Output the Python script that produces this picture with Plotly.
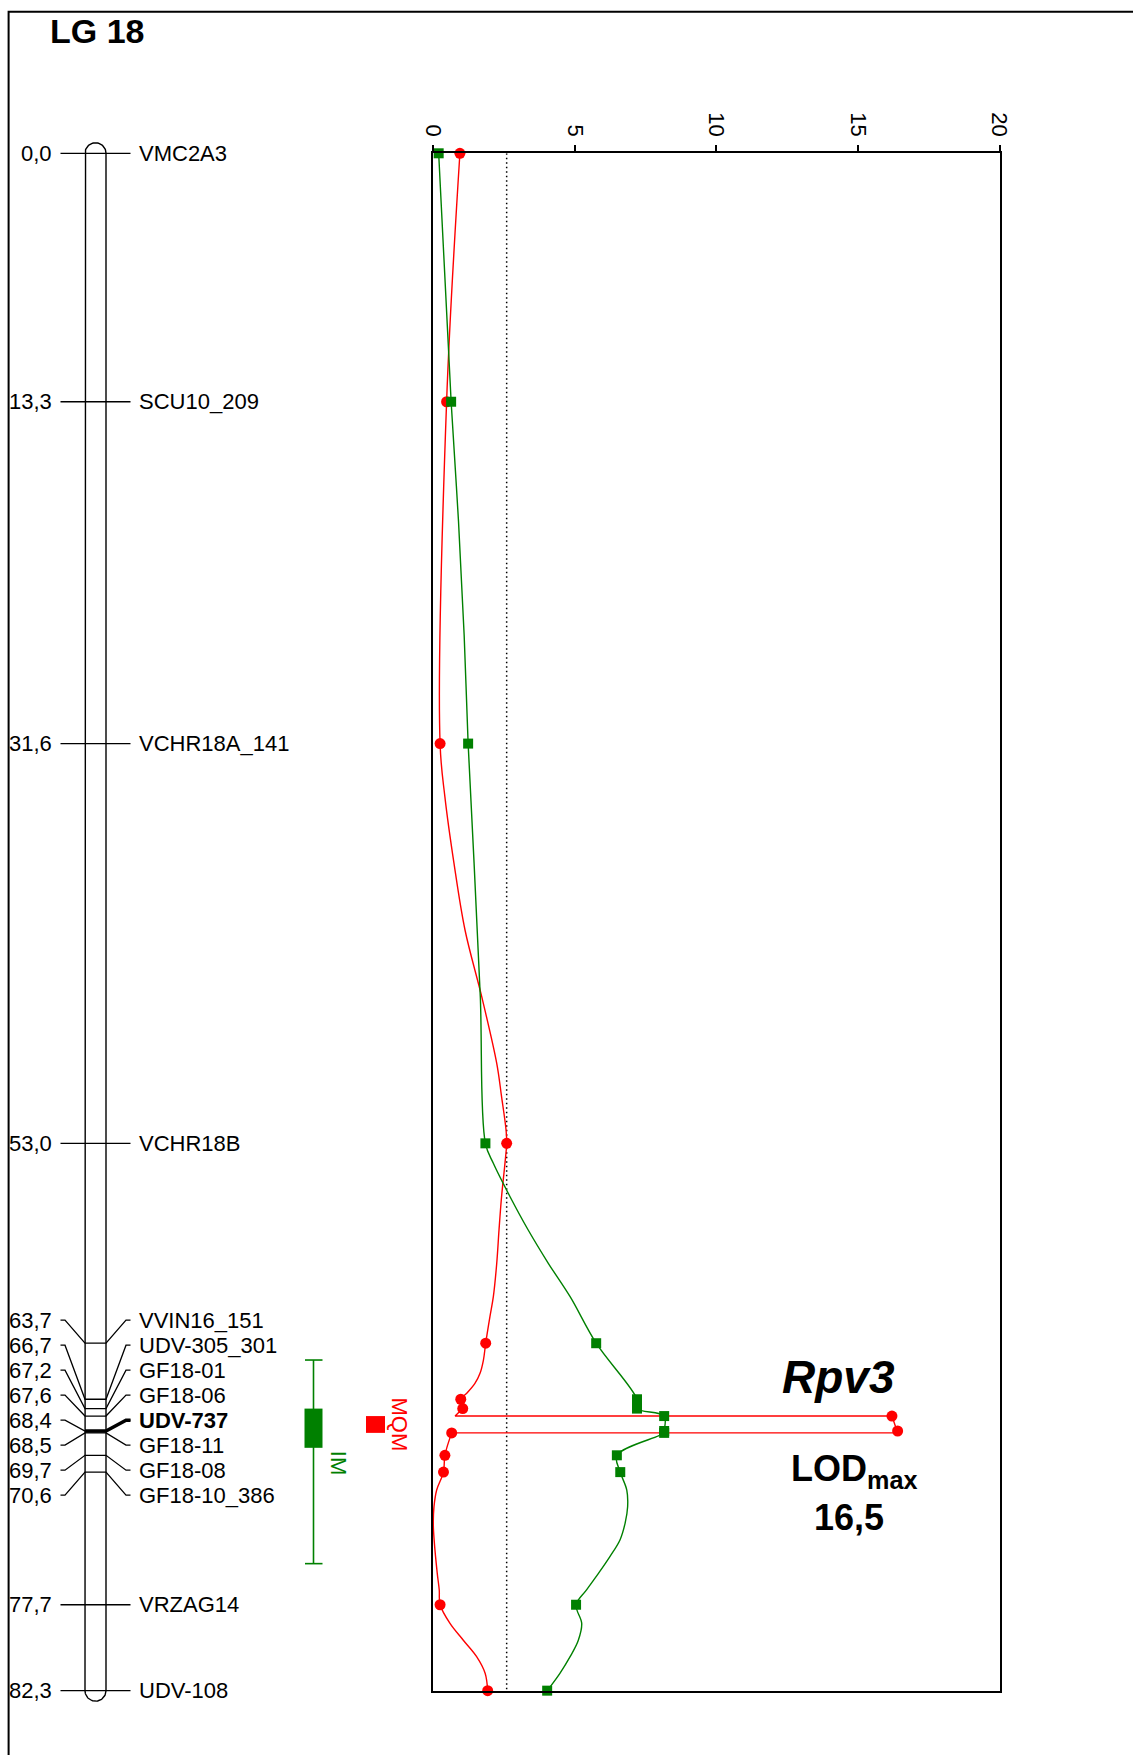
import plotly.graph_objects as go
import numpy as np

W, H = 1133, 1755

# ---------------- data ----------------
# markers of linkage group 18 (position in cM)
positions_cM = [0.0, 13.3, 31.6, 53.0, 63.7, 66.7, 67.2, 67.6, 68.4, 68.5, 69.7, 70.6, 77.7, 82.3]
marker_names = ["VMC2A3", "SCU10_209", "VCHR18A_141", "VCHR18B", "VVIN16_151", "UDV-305_301",
                "GF18-01", "GF18-06", "UDV-737", "GF18-11", "GF18-08", "GF18-10_386",
                "VRZAG14", "UDV-108"]
# LOD at the markers
lod_im = [0.2, 0.64, 1.24, 1.85, 5.76, 7.2, 7.2, 8.16, 8.16, 8.16, 6.49, 6.61, 5.05, 4.03]
lod_mqm = [0.95, 0.48, 0.25, 2.6, 1.86, 0.98, 1.05, 16.2, 16.4, 0.66, 0.42, 0.37, 0.25, 1.93]

# LOD profiles
im_profile_cM = [0.0, 13.3, 19.7, 25.8, 31.6, 38.0, 45.15, 53.0, 54.07, 55.86, 57.64, 59.42,
                 61.21, 63.7, 66.7, 67.2, 67.6, 68.4, 68.5, 69.7, 70.6, 71.56, 72.45,
                 73.34, 74.23, 75.11, 76.02, 76.9, 77.7, 78.7, 79.6, 80.48, 81.37, 82.3]
im_profile_lod = [0.2, 0.64, 0.9, 1.1, 1.24, 1.45, 1.67, 1.85, 2.13, 2.72, 3.36, 4.07,
                  4.84, 5.76, 7.2, 7.2, 8.16, 8.16, 8.16, 6.49, 6.61, 6.84, 6.87,
                  6.78, 6.6, 6.25, 5.84, 5.42, 5.05, 5.25, 5.13, 4.84, 4.48, 4.03]
mqm_left_cM = [0.0, 13.3, 31.6, 34.45, 38.0, 41.58, 45.15, 48.72, 50.5, 52.3, 53.0, 54.07,
               55.86, 57.64, 59.42, 61.21, 62.28, 63.7, 64.6, 65.31, 65.85, 66.38, 66.7, 67.2]
mqm_left_lod = [0.95, 0.48, 0.25, 0.42, 0.74, 1.13, 1.72, 2.25, 2.42, 2.58, 2.6, 2.54,
                2.42, 2.33, 2.25, 2.13, 2.01, 1.86, 1.78, 1.66, 1.48, 1.19, 0.98, 1.05]
mqm_peak_cM = [67.2, 67.6, 67.6, 68.4, 68.5, 68.5]
mqm_peak_lod = [1.05, 0.78, 16.2, 16.4, 16.4, 0.66]
mqm_right_cM = [68.5, 69.7, 70.6, 71.56, 72.45, 73.34, 74.23, 76.02, 76.9, 77.7, 78.7, 79.6,
                80.48, 81.37, 82.3]
mqm_right_lod = [0.66, 0.42, 0.37, 0.13, 0.035, 0.01, 0.04, 0.15, 0.22, 0.25, 0.6, 1.07,
                 1.54, 1.84, 1.93]

lod_threshold = 2.6
im_interval_outer = [64.6, 75.5]
im_interval_inner = [67.2, 69.3]
mqm_interval = [67.6, 68.5]
lod_ticks = [0, 5, 10, 15, 20]
highlight_marker = "UDV-737"
lod_max = 16.5
group_title = "LG 18"
qtl_name = "Rpv3"

# ---------------- geometry ----------------
Y0 = 153.3          # px of 0 cM
S = 18.68           # px per cM
X_LOD0, X_LOD20 = 433.0, 999.6
RED, GREEN = "#FF0000", "#008000"
FONT = "Liberation Sans, Arial, sans-serif"

cm_end = positions_cM[-1]

# label spreading
gap = 25.0 / S
groups = [[i] for i in range(len(positions_cM))]


def layout_groups(groups):
    res = []
    for g in groups:
        c = (positions_cM[g[0]] + positions_cM[g[-1]]) / 2
        n = len(g)
        res.append([c + (k - (n - 1) / 2) * gap for k in range(n)])
    return res


changed = True
while changed:
    changed = False
    lab = layout_groups(groups)
    for gi in range(len(groups) - 1):
        if lab[gi + 1][0] - lab[gi][-1] < gap - 1e-9:
            groups[gi] = groups[gi] + groups[gi + 1]
            del groups[gi + 1]
            changed = True
            break
label_y = [y for ys in layout_groups(groups) for y in ys]

fig = go.Figure()

# ---------- chromosome (x2 / y2, x2 in pixel units) ----------
cx, r = 95.5, 10.5
xl, xr = cx - r, cx + r
th = np.linspace(0, np.pi, 40)
top_arc_x = list(cx - r * np.cos(th))
top_arc_y = list(positions_cM[0] - r * np.sin(th) / S)
bot_arc_x = list(cx + r * np.cos(th))
bot_arc_y = list(cm_end + r * np.sin(th) / S)
chrom_x = [xl] + top_arc_x + [xr, xr] + bot_arc_x + [xl]
chrom_y = [cm_end] + top_arc_y + [positions_cM[0], cm_end] + bot_arc_y + [cm_end]
fig.add_trace(go.Scatter(x=chrom_x, y=chrom_y, mode="lines", xaxis="x2", yaxis="y2",
                         line=dict(color="black", width=1.4), hoverinfo="skip", showlegend=False))

annotations = []
for i, (p, name, ly) in enumerate(zip(positions_cM, marker_names, label_y)):
    xs = [60.5, 65, xl, xr, 126, 130.5]
    ys = [ly, ly, p, p, ly, ly]
    fig.add_trace(go.Scatter(x=xs, y=ys, mode="lines", xaxis="x2", yaxis="y2",
                             line=dict(color="black", width=1.3), hoverinfo="skip", showlegend=False))
    bold = name == highlight_marker
    if bold:
        fig.add_trace(go.Scatter(x=[xl, xr, 126, 130.5], y=[p, p, ly, ly], mode="lines",
                                 xaxis="x2", yaxis="y2", line=dict(color="black", width=3.5),
                                 hoverinfo="skip", showlegend=False))
    annotations.append(dict(x=54, y=ly, xref="x2", yref="y2", xanchor="right", yanchor="middle",
                            text=f"{p:.1f}".replace(".", ","), showarrow=False,
                            font=dict(size=22, color="black", family=FONT)))
    annotations.append(dict(x=136.5, y=ly, xref="x2", yref="y2", xanchor="left", yanchor="middle",
                            text=f"<b>{name}</b>" if bold else name, showarrow=False,
                            font=dict(size=22, color="black", family=FONT)))

# ---------- IM / MQM intervals ----------
shapes = []
imx = 313.5
shapes.append(dict(type="line", xref="x2", yref="y2", x0=imx, x1=imx,
                   y0=im_interval_outer[0], y1=im_interval_outer[1], line=dict(color=GREEN, width=1.6)))
for yv in im_interval_outer:
    shapes.append(dict(type="line", xref="x2", yref="y2", x0=305, x1=322.5, y0=yv, y1=yv,
                       line=dict(color=GREEN, width=1.6)))
shapes.append(dict(type="rect", xref="x2", yref="y2", x0=304.5, x1=322.5,
                   y0=im_interval_inner[0], y1=im_interval_inner[1],
                   fillcolor=GREEN, line=dict(color=GREEN, width=0)))
shapes.append(dict(type="rect", xref="x2", yref="y2", x0=366, x1=385,
                   y0=mqm_interval[0], y1=mqm_interval[1],
                   fillcolor=RED, line=dict(color=RED, width=0)))
annotations.append(dict(x=338, y=70.1, xref="x2", yref="y2", text="IM", textangle=90,
                        showarrow=False, font=dict(size=22, color=GREEN, family=FONT)))
annotations.append(dict(x=400, y=sum(mqm_interval) / 2, xref="x2", yref="y2", text="MQM", textangle=90,
                        showarrow=False, font=dict(size=22, color=RED, family=FONT)))

# ---------- LOD curves ----------
fig.add_trace(go.Scatter(x=[lod_threshold, lod_threshold], y=[positions_cM[0], cm_end], mode="lines",
                         line=dict(color="black", width=1.5, dash="1.5px,3px"),
                         hoverinfo="skip", showlegend=False))

red_line = dict(color=RED, width=1.4)
fig.add_trace(go.Scatter(x=mqm_left_lod, y=mqm_left_cM, mode="lines",
                         line=dict(**red_line, shape="spline"), cliponaxis=False,
                         hoverinfo="skip", showlegend=False))
fig.add_trace(go.Scatter(x=mqm_peak_lod, y=mqm_peak_cM, mode="lines",
                         line=dict(**red_line, shape="linear"), cliponaxis=False,
                         hoverinfo="skip", showlegend=False))
fig.add_trace(go.Scatter(x=mqm_right_lod, y=mqm_right_cM, mode="lines",
                         line=dict(**red_line, shape="spline"), cliponaxis=False,
                         hoverinfo="skip", showlegend=False))
fig.add_trace(go.Scatter(x=lod_mqm, y=positions_cM, mode="markers", name="MQM",
                         marker=dict(symbol="circle", size=11, color=RED),
                         cliponaxis=False, showlegend=False))
fig.add_trace(go.Scatter(x=im_profile_lod, y=im_profile_cM, mode="lines",
                         line=dict(color=GREEN, width=1.4, shape="spline"),
                         cliponaxis=False, hoverinfo="skip", showlegend=False))
fig.add_trace(go.Scatter(x=lod_im, y=positions_cM, mode="markers", name="IM",
                         marker=dict(symbol="square", size=10, color=GREEN),
                         cliponaxis=False, showlegend=False))

# ---------- text ----------
annotations.append(dict(x=48 / W, y=1 - 31 / H, xref="paper", yref="paper", xanchor="left",
                        yanchor="middle", text=f"<b>{group_title}</b>", showarrow=False,
                        font=dict(size=34, color="black", family=FONT)))
annotations.append(dict(x=838 / W, y=1 - 1377 / H, xref="paper", yref="paper", xanchor="center",
                        yanchor="middle", text=f"<b><i>{qtl_name}</i></b>", showarrow=False,
                        font=dict(size=46, color="black", family=FONT)))
annotations.append(dict(x=789 / W, y=1 - 1471 / H, xref="paper", yref="paper", xanchor="left",
                        yanchor="middle", text="<b>LOD<sub>max</sub></b>", showarrow=False,
                        font=dict(size=36, color="black", family=FONT)))
annotations.append(dict(x=848.5 / W, y=1 - 1517 / H, xref="paper", yref="paper", xanchor="center",
                        yanchor="middle", text=f"<b>{lod_max:.1f}</b>".replace(".", ","),
                        showarrow=False, font=dict(size=36, color="black", family=FONT)))

# outer frame
shapes.append(dict(type="path", xref="paper", yref="paper",
                   path=f"M {8.6 / W},0 L {8.6 / W},{1 - 11.8 / H} L 1,{1 - 11.8 / H}",
                   line=dict(color="black", width=2)))

fig.update_layout(
    template="none",
    width=W, height=H, autosize=False, margin=dict(l=0, r=0, t=0, b=0, pad=0, autoexpand=False),
    paper_bgcolor="white", plot_bgcolor="rgba(0,0,0,0)",
    font=dict(family=FONT, size=22, color="black"),
    showlegend=False,
    xaxis=dict(domain=[X_LOD0 / W, X_LOD20 / W], range=[0, 20], side="top", anchor="y",
               tickvals=lod_ticks, ticktext=[str(t) for t in lod_ticks], tickangle=90,
               ticks="outside", ticklen=7, tickwidth=1.5, tickcolor="black",
               showline=True, mirror=True, linecolor="black", linewidth=1.6, automargin=False,
               showgrid=False, zeroline=False, tickfont=dict(size=22, family=FONT)),
    yaxis=dict(domain=[1 - (Y0 + cm_end * S) / H, 1 - Y0 / H], range=[cm_end, 0], anchor="x",
               showline=True, mirror=True, linecolor="black", linewidth=1.6, automargin=False,
               showticklabels=False, ticks="", showgrid=False, zeroline=False),
    xaxis2=dict(domain=[0, X_LOD0 / W], range=[0, X_LOD0], anchor="y2", visible=False,
                automargin=False),
    yaxis2=dict(domain=[0, 1], range=[(H - Y0) / S, -Y0 / S], anchor="x2", visible=False,
                automargin=False),
    shapes=shapes, annotations=annotations,
)

fig.write_html("out.html", config={"displayModeBar": False},
               post_script="document.body.style.margin='0';document.body.style.overflow='hidden';")
